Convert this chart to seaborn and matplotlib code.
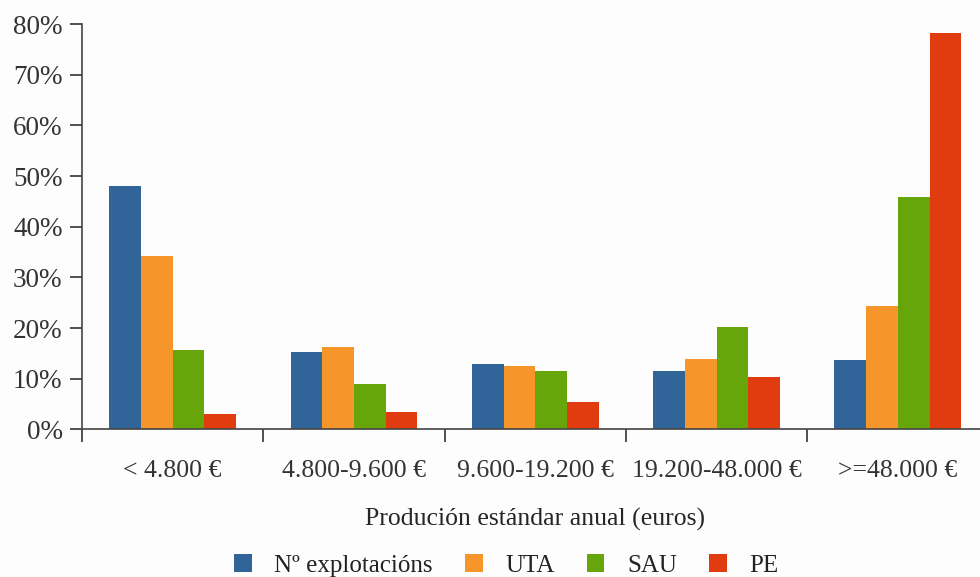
import numpy as np
import pandas as pd
import seaborn as sns
from matplotlib import pyplot as plt
from matplotlib.ticker import FixedLocator, PercentFormatter

## Datos
categorias = ["< 4.800 €", "4.800-9.600 €", "9.600-19.200 €", "19.200-48.000 €", ">=48.000 €"]
series = ["Nº explotacións", "UTA", "SAU", "PE"]
explotacions = [48.1, 15.3, 12.9, 11.5, 13.6]
uta = [34.2, 16.3, 12.5, 13.9, 24.4]
sau = [15.6, 9.0, 11.5, 20.3, 45.8]
pe = [3.0, 3.4, 5.4, 10.3, 78.2]
colores = ["#31659a", "#f6962a", "#67a60a", "#e13b10"]

df = pd.DataFrame({
    "cat": categorias * 4,
    "serie": np.repeat(series, len(categorias)),
    "valor": explotacions + uta + sau + pe,
})

sns.set_style("white")
plt.rcParams["font.family"] = ["Liberation Serif", "DejaVu Serif"]
plt.rcParams["text.color"] = "#222222"
plt.rcParams["xtick.color"] = "#333333"
plt.rcParams["ytick.color"] = "#333333"

fig = plt.figure(figsize=(9.8, 5.77), dpi=100)
fig.patch.set_facecolor("#fdfdfd")
ax = fig.add_axes([0.0837, 0.256, 0.925, 0.702])
ax.set_facecolor("#fdfdfd")

sns.barplot(data=df, x="cat", y="valor", hue="serie", order=categorias,
            hue_order=series, palette=colores, width=0.7, saturation=1,
            ax=ax, linewidth=0)

ax.set_ylim(0, 80)
ax.set_xlim(-0.5, 4.5)
ax.yaxis.set_major_formatter(PercentFormatter(decimals=0))
ax.set_yticks(np.arange(0, 81, 10))
ax.tick_params(axis="y", direction="out", length=9, width=1.2, labelsize=19.5, pad=5, left=True)

# marcas entre categorías
ax.xaxis.set_minor_locator(FixedLocator(np.arange(-0.5, 5, 1)))
ax.tick_params(axis="x", which="major", length=0, labelsize=18.5, pad=22)
ax.tick_params(axis="x", which="minor", direction="out", length=9, width=1.2, bottom=True)

for s in ["top", "right"]:
    ax.spines[s].set_visible(False)
for s in ["left", "bottom"]:
    ax.spines[s].set_color("#444444")
    ax.spines[s].set_linewidth(1.2)

ax.set_ylabel("")
ax.set_xlabel("Produción estándar anual (euros)", fontsize=18.5, labelpad=19)

ax.legend(loc="upper center", bbox_to_anchor=(0.468, -0.296), ncol=4, frameon=False,
          fontsize=18, handlelength=0.7, handleheight=0.7, columnspacing=1.3,
          handletextpad=0.9, borderaxespad=0, borderpad=0.2)

fig.savefig("out.png", dpi=100, facecolor=fig.get_facecolor())
